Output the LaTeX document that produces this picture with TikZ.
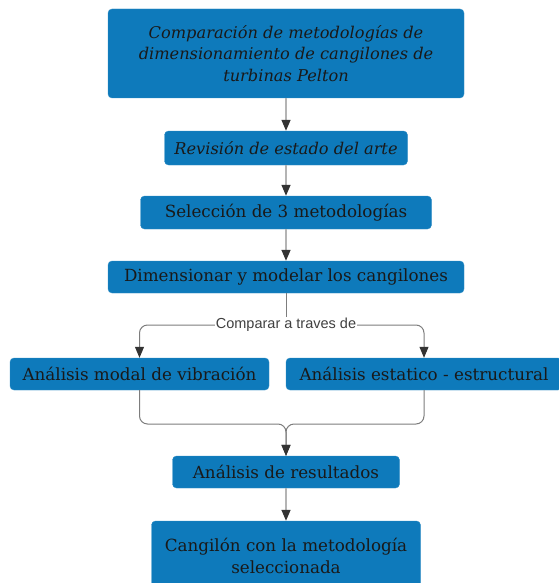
\documentclass[tikz,border=0pt]{standalone}
\usepackage{fontspec}
\setmainfont{DejaVu Serif}
\newfontfamily\etiqfont{Liberation Sans}
\usetikzlibrary{arrows.meta}
\definecolor{azulcaja}{RGB}{14,122,187}
\definecolor{grislinea}{RGB}{180,180,180}
\definecolor{grisrama}{RGB}{125,125,125}

\begin{document}
\begin{tikzpicture}[x=1pt,y=-1pt,
    caja/.style={fill=azulcaja, draw=azulcaja!85!white, rounded corners=4pt, inner sep=0pt,
      align=center, text=black!90, font=\fontsize{16.75}{21.5}\selectfont},
    cursiva/.style={font=\fontsize{16.2}{21.5}\selectfont\itshape},
    flecha/.style={draw=grislinea, line width=1.4pt, -{Triangle[length=11pt,width=9pt,color=black!80,fill=black!80]}},
    rama/.style={draw=grisrama, line width=1pt, rounded corners=8pt}]

    \useasboundingbox (0,0) rectangle (558,583);

    % cajas del proceso
    \node[caja, cursiva, minimum width=356, minimum height=89] (tema) at (286,53.5)
        {Comparación de metodologías de\\dimensionamiento de cangilones de\\turbinas Pelton};
    \node[caja, cursiva, minimum width=243, minimum height=34] (revision) at (286,148) {Revisión de estado del arte};
    \node[caja, minimum width=291, minimum height=33] (seleccion) at (286,212.5) {Selección de 3 metodologías};
    \node[caja, minimum width=356, minimum height=32] (dimension) at (286,277) {Dimensionar y modelar los cangilones};
    \node[caja, minimum width=259, minimum height=32] (modal) at (139.5,374) {Análisis modal de vibración};
    \node[caja, minimum width=276, minimum height=32] (estatico) at (424,374) {Análisis estatico - estructural};
    \node[caja, minimum width=227, minimum height=32] (resultados) at (286,472) {Análisis de resultados};
    \node[caja, minimum width=269, minimum height=70] (cangilon) at (286,556) {Cangilón con la metodología\\seleccionada};

    \coordinate (separa) at (286,325);
    \coordinate (junta) at (286,424);

    \draw[flecha] (tema) -- (revision);
    \draw[flecha] (revision) -- (seleccion);
    \draw[flecha] (seleccion) -- (dimension);

    % comparacion en dos ramas
    \draw[rama] (dimension.south) -- (separa);
    \draw[rama, flecha, draw=grisrama, line width=1pt] (separa) -| (modal.north);
    \draw[rama, flecha, draw=grisrama, line width=1pt] (separa) -| (estatico.north);
    \node[fill=white, inner sep=1pt, text=black!75, font=\etiqfont\fontsize{14.5}{16}\selectfont] (comparar) at (separa) {Comparar a traves de};

    \draw[rama, flecha, draw=grisrama, line width=1pt] (modal.south) |- (junta) -- (resultados.north);
    \draw[rama, flecha, draw=grisrama, line width=1pt] (estatico.south) |- (junta) -- (resultados.north);
    \draw[flecha] (resultados) -- (cangilon);

\end{tikzpicture}
\end{document}
